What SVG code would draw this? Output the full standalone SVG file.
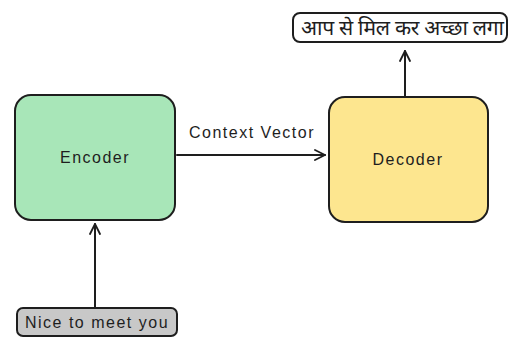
<svg xmlns="http://www.w3.org/2000/svg" width="509" height="338" viewBox="0 0 509 338">
  <style>
    .box { stroke: #1e1e1e; stroke-width: 2; }
    .lbl { font-family: "Liberation Sans", "DejaVu Sans", sans-serif; font-size: 16px; fill: #1e1e1e; letter-spacing: 1.5px; }
    .hi { font-family: "Noto Sans Devanagari", "Noto Sans", "DejaVu Sans", sans-serif; font-size: 21px; fill: #1e1e1e; }
    .edge { stroke: #1e1e1e; stroke-width: 2; fill: none; stroke-linecap: round; stroke-linejoin: round; }
  </style>
  <defs>
    <marker id="arrow" viewBox="0 0 12 12" refX="11" refY="6" markerWidth="12" markerHeight="12" markerUnits="userSpaceOnUse" orient="auto">
      <path d="M1,1 L11,6 L1,11" fill="none" stroke="#1e1e1e" stroke-width="1.8" stroke-linecap="round" stroke-linejoin="round"/>
    </marker>
  </defs>
  <rect width="509" height="338" fill="#ffffff"/>

  <g id="connectors">
    <line class="edge" x1="95" y1="307" x2="95" y2="224" marker-end="url(#arrow)"/>
    <line class="edge" x1="177" y1="155" x2="325" y2="155" marker-end="url(#arrow)"/>
    <line class="edge" x1="405" y1="96" x2="405" y2="51" marker-end="url(#arrow)"/>
    <text class="lbl" x="252" y="138" text-anchor="middle">Context Vector</text>
  </g>

  <g id="encoder">
    <rect class="box" x="15" y="95" width="160" height="125" rx="16" fill="#a8e6b8"/>
    <text class="lbl" x="95" y="163" text-anchor="middle">Encoder</text>
  </g>

  <g id="decoder">
    <rect class="box" x="329" y="97" width="159" height="125" rx="16" fill="#fde68f"/>
    <text class="lbl" x="408" y="165" text-anchor="middle">Decoder</text>
  </g>

  <g id="input">
    <rect class="box" x="17" y="308" width="160" height="28" rx="6" fill="#c8c8c8"/>
    <text class="lbl" x="97" y="328" text-anchor="middle">Nice to meet you</text>
  </g>

  <g id="output">
    <rect class="box" x="293" y="13" width="214" height="29" rx="7" fill="#ffffff"/>
    <text class="hi" x="301" y="35" textLength="203" lengthAdjust="spacing">आप से मिल कर अच्छा लगा</text>
  </g>
</svg>
